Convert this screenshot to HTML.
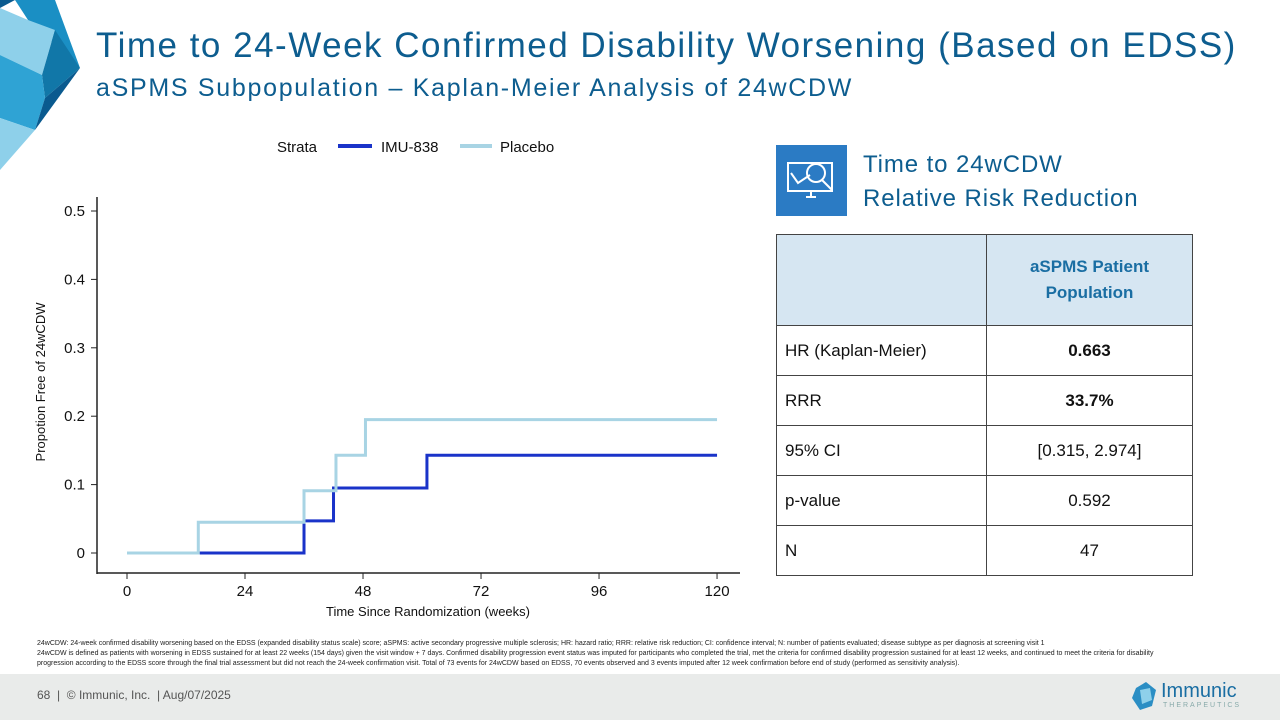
<!DOCTYPE html>
<html><head><meta charset="utf-8"><style>
body{margin:0;width:1280px;height:720px;position:relative;background:#fff;font-family:"Liberation Sans",sans-serif;overflow:hidden}
.abs{position:absolute}
table{border-collapse:collapse}
td{border:1.5px solid #444;font-size:17px;color:#111;padding:0 8px}
</style></head><body>
<svg class="abs" style="left:0;top:0" width="90" height="180">
<polygon points="0,0 15,0 0,8" fill="#0a5a8f"/>
<polygon points="15,0 55,0 80,68 28,20" fill="#1a8fc4"/>
<polygon points="0,8 28,20 55,30 42,75 0,55" fill="#8ed0ea"/>
<polygon points="55,30 80,68 45,98 42,75" fill="#1177a8"/>
<polygon points="0,55 42,75 45,98 35,130 0,118" fill="#2fa3d4"/>
<polygon points="45,98 80,68 35,130" fill="#0a5a8f"/>
<polygon points="0,118 35,130 0,170" fill="#8ed0ea"/>
</svg>
<div class="abs" style="left:96px;top:26px;font-size:35px;letter-spacing:1.5px;color:#0d5d8f;white-space:nowrap">Time to 24-Week Confirmed Disability Worsening (Based on EDSS)</div>
<div class="abs" style="left:96px;top:74px;font-size:25px;letter-spacing:1.7px;color:#0d5d8f;white-space:nowrap">aSPMS Subpopulation – Kaplan-Meier Analysis of 24wCDW</div>

<svg class="abs" style="left:0;top:0" width="760" height="630" id="chart">
<g font-size="15" fill="#111">
<text x="277" y="152">Strata</text>
<line x1="338" y1="146" x2="372" y2="146" stroke="#1a33c9" stroke-width="4"/>
<text x="381" y="152">IMU-838</text>
<line x1="460" y1="146" x2="492" y2="146" stroke="#a8d4e4" stroke-width="4"/>
<text x="500" y="152">Placebo</text>
</g>
<line x1="97" y1="197" x2="97" y2="574" stroke="#222" stroke-width="1.5"/>
<line x1="97" y1="573" x2="740" y2="573" stroke="#222" stroke-width="1.5"/>
<g id="ticks"></g>
<text x="428" y="616" font-size="13" text-anchor="middle" fill="#111">Time Since Randomization (weeks)</text>
<text transform="translate(45,382) rotate(-90)" font-size="13" text-anchor="middle" fill="#111">Propotion Free of 24wCDW</text>
<g id="series"></g>
</svg>

<div class="abs" style="left:776px;top:145px;width:71px;height:71px;background:#2b7bc4">
<svg width="71" height="71"><g fill="none" stroke="#fff" stroke-width="2"><rect x="12" y="18" width="44" height="28"/><line x1="30" y1="52" x2="40" y2="52"/><line x1="35" y1="46" x2="35" y2="52"/><circle cx="40" cy="28" r="9"/><line x1="46" y1="35" x2="56" y2="45"/><polyline points="15,28 22,38 34,30"/></g></svg></div>
<div class="abs" style="left:863px;top:148px;font-size:24px;letter-spacing:0.9px;line-height:34px;color:#0d5d8f">Time to 24wCDW<br>Relative Risk Reduction</div>

<table class="abs" style="left:776px;top:234px;width:417px;height:342px">
<tr style="height:91px;background:#d6e6f2"><td style="width:193px"></td><td style="text-align:center;color:#1a6ea3;font-weight:bold;line-height:26px">aSPMS Patient<br>Population</td></tr>
<tr><td>HR (Kaplan-Meier)</td><td style="text-align:center;font-weight:bold">0.663</td></tr>
<tr><td>RRR</td><td style="text-align:center;font-weight:bold">33.7%</td></tr>
<tr><td>95% CI</td><td style="text-align:center">[0.315, 2.974]</td></tr>
<tr><td>p-value</td><td style="text-align:center">0.592</td></tr>
<tr><td>N</td><td style="text-align:center">47</td></tr>
</table>

<div class="abs" style="left:37px;top:639px;width:1200px;font-size:7px;line-height:10px;color:#222">24wCDW: 24-week confirmed disability worsening based on the EDSS (expanded disability status scale) score; aSPMS: active secondary progressive multiple sclerosis; HR: hazard ratio; RRR: relative risk reduction; CI: confidence interval; N: number of patients evaluated; disease subtype as per diagnosis at screening visit 1<br>24wCDW is defined as patients with worsening in EDSS sustained for at least 22 weeks (154 days) given the visit window + 7 days. Confirmed disability progression event status was imputed for participants who completed the trial, met the criteria for confirmed disability progression sustained for at least 12 weeks, and continued to meet the criteria for disability<br>progression according to the EDSS score through the final trial assessment but did not reach the 24-week confirmation visit. Total of 73 events for 24wCDW based on EDSS, 70 events observed and 3 events imputed after 12 week confirmation before end of study (performed as sensitivity analysis).</div>

<div class="abs" style="left:0;top:674px;width:1280px;height:46px;background:#e9ebea"></div>
<div class="abs" style="left:37px;top:688px;font-size:12px;color:#555">68 &nbsp;| &nbsp;© Immunic, Inc. &nbsp;| Aug/07/2025</div>
<svg class="abs" style="left:1132px;top:682px" width="26" height="30"><polygon points="4,6 14,0 24,8 20,24 8,28 0,16" fill="#2b8ec4"/><polygon points="8,8 18,6 20,18 10,22" fill="#8ed0ea"/></svg>
<div class="abs" style="left:1161px;top:680px;font-size:20px;color:#1a6ea3">Immunic</div>
<div class="abs" style="left:1163px;top:702px;font-size:7px;letter-spacing:2px;color:#8aa">THERAPEUTICS</div>

<script>
const xTicks=[0,24,48,72,96,120];
const yTicks=[0,0.1,0.2,0.3,0.4,0.5];
const yTickLabels=["0","0.1","0.2","0.3","0.4","0.5"];
const imuTimes=[0,36,42,61,120];
const imuValues=[0,0.047,0.095,0.143,0.143];
const placeboTimes=[0,14.5,36,42.5,48.5,120];
const placeboValues=[0,0.045,0.091,0.143,0.195,0.195];
const NS="http://www.w3.org/2000/svg";
function xs(w){return 127+w*4.917;}
function ys(v){return 553-v*684;}
const tg=document.getElementById('ticks');
xTicks.forEach(t=>{
 const l=document.createElementNS(NS,'line');l.setAttribute('x1',xs(t));l.setAttribute('x2',xs(t));l.setAttribute('y1',573);l.setAttribute('y2',579);l.setAttribute('stroke','#222');
 
 
 tg.appendChild(l);
 const tx=document.createElementNS(NS,'text');tx.setAttribute('x',xs(t));tx.setAttribute('y',596);tx.setAttribute('text-anchor','middle');tx.setAttribute('font-size','15');tx.setAttribute('fill','#111');tx.textContent=t;
 
 
 tg.appendChild(tx);
});
yTicks.forEach((t,i)=>{
 const l=document.createElementNS(NS,'line');l.setAttribute('x1',91);l.setAttribute('x2',97);l.setAttribute('y1',ys(t));l.setAttribute('y2',ys(t));l.setAttribute('stroke','#222');
 
 
 tg.appendChild(l);
 const tx=document.createElementNS(NS,'text');tx.setAttribute('x',85);tx.setAttribute('y',ys(t)+5);tx.setAttribute('text-anchor','end');tx.setAttribute('font-size','15');tx.setAttribute('fill','#111');tx.textContent=yTickLabels[i];
 
 
 tg.appendChild(tx);
});
function stepPath(ts,vs){let d='M'+xs(ts[0])+','+ys(vs[0]);for(let i=1;i<ts.length;i++){d+=' H'+xs(ts[i])+' V'+ys(vs[i]);}return d;}
const sg=document.getElementById('series');
const p1=document.createElementNS(NS,'path');p1.setAttribute('d',stepPath(imuTimes,imuValues));p1.setAttribute('fill','none');p1.setAttribute('stroke','#1a33c9');p1.setAttribute('stroke-width','3');


sg.appendChild(p1);
const p2=document.createElementNS(NS,'path');p2.setAttribute('d',stepPath(placeboTimes,placeboValues));p2.setAttribute('fill','none');p2.setAttribute('stroke','#a8d4e4');p2.setAttribute('stroke-width','3');


sg.appendChild(p2);
</script>
</body></html>
